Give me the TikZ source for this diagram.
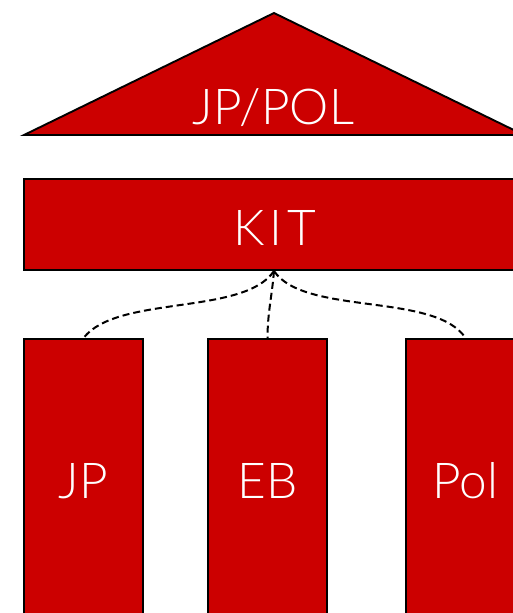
\documentclass[tikz,border=0pt]{standalone}
\usepackage{fontspec}
\newfontfamily\lblfont{Lato Light}
\begin{document}
\begin{tikzpicture}[x=1pt,y=-1pt,
  blk/.style={draw=black,line width=1.9pt,fill=kitred,inner sep=0pt},
  lbl/.style={font=\lblfont\fontsize{49.5}{58}\selectfont,text=white,anchor=base,inner sep=0pt},
  conn/.style={draw=black,line width=2pt,dash pattern=on 7pt off 4pt}]
\definecolor{kitred}{HTML}{CC0000}
\clip (0,0) rectangle (513,613);
\useasboundingbox (0,0) rectangle (513,613);
% roof
\draw[line width=1.9pt,fill=kitred,line join=miter] (274,13) -- (524,135) -- (24,135) -- cycle;
\node[lbl] (roof) at (273.5,124) {JP/POL};
% KIT beam
\node[blk,minimum width=500pt,minimum height=91pt] (kit) at (274,224.5) {};
\node[lbl] (kitt) at (275,245) {K\kern5pt I\kern5pt T};
% pillars
\node[blk,minimum width=119pt,minimum height=282pt] (jp) at (83.5,480) {};
\node[blk,minimum width=119pt,minimum height=282pt] (eb) at (267.5,480) {};
\node[blk,minimum width=119pt,minimum height=282pt] (pol) at (465.5,480) {};
\node[lbl] (jpt) at (83.5,498) {JP};
\node[lbl] (ebt) at (267.5,498) {EB};
\node[lbl] (polt) at (465.5,498) {Pol};
% connectors
\draw[conn] (kit.south) .. controls +(-30,45) and +(33.5,-43.5) .. (jp.north);
\draw[conn] (kit.south) .. controls +(-2,25) and +(0,-25) .. (eb.north);
\draw[conn] (kit.south) .. controls +(30,45) and +(-30,-46) .. (pol.north);
\end{tikzpicture}
\end{document}
